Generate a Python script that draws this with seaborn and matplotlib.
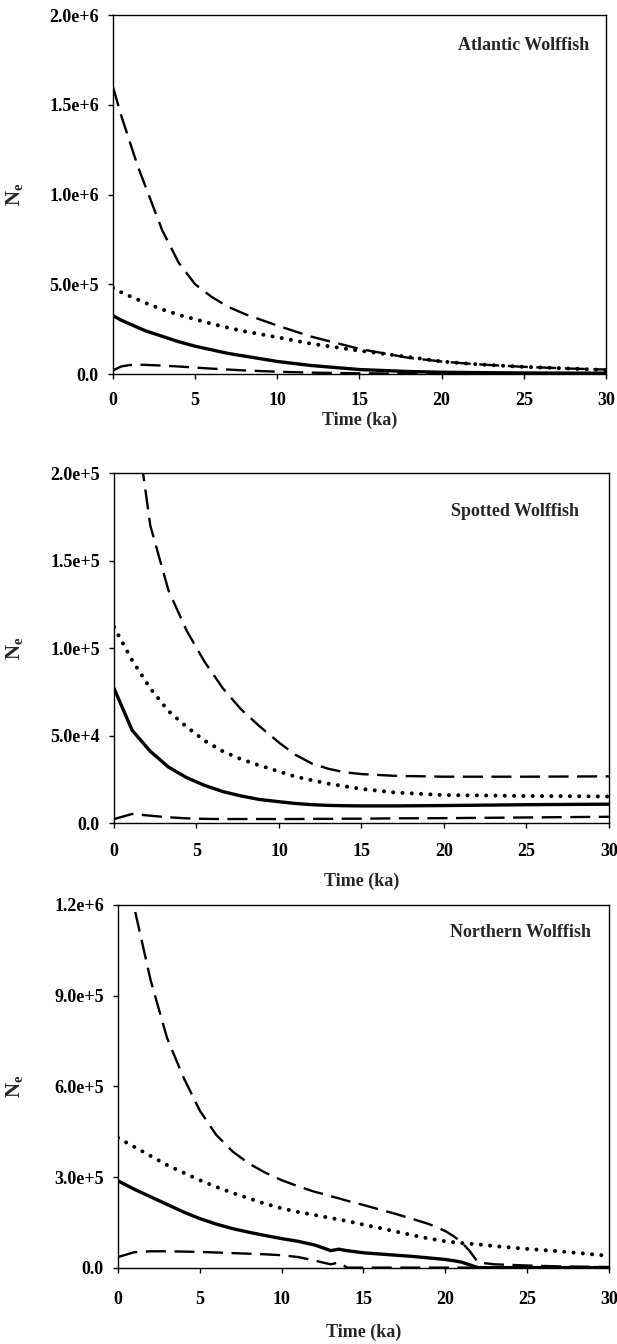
import numpy as np
import pandas as pd
import matplotlib
matplotlib.use("Agg")
import matplotlib.pyplot as plt
import seaborn as sns
from matplotlib.ticker import FuncFormatter

sns.set_style("ticks")
plt.rcParams["font.family"] = ["Liberation Serif", "DejaVu Serif"]
plt.rcParams["font.weight"] = "bold"
plt.rcParams["mathtext.fontset"] = "custom"
plt.rcParams["mathtext.rm"] = "Liberation Serif:bold"
plt.rcParams["mathtext.it"] = "Liberation Serif:bold"
plt.rcParams["mathtext.bf"] = "Liberation Serif:bold"

# --- data ---
# Atlantic wolffish
atl_t = [0, 0.5, 1, 1.5, 2, 3, 4, 5, 6, 7, 8, 10, 12, 15, 18, 20, 22, 25, 28, 30]
atl_hi = [1.60e6, 1.44e6, 1.30e6, 1.16e6, 1.04e6, 0.80e6, 0.62e6, 0.50e6, 0.43e6, 0.375e6,
          0.335e6, 0.27e6, 0.21e6, 0.14e6, 0.09e6, 0.07e6, 0.055e6, 0.04e6, 0.03e6, 0.025e6]
atl_mid = [0.48e6, 0.455e6, 0.435e6, 0.415e6, 0.395e6, 0.36e6, 0.33e6, 0.305e6, 0.28e6, 0.258e6,
           0.238e6, 0.205e6, 0.17e6, 0.13e6, 0.095e6, 0.07e6, 0.055e6, 0.04e6, 0.03e6, 0.022e6]
atl_med = [0.325e6, 0.30e6, 0.28e6, 0.26e6, 0.24e6, 0.21e6, 0.18e6, 0.155e6, 0.135e6, 0.115e6,
           0.10e6, 0.07e6, 0.048e6, 0.025e6, 0.014e6, 0.01e6, 0.008e6, 0.006e6, 0.005e6, 0.005e6]
atl_lo = [0.02e6, 0.042e6, 0.05e6, 0.052e6, 0.051e6, 0.047e6, 0.042e6, 0.036e6, 0.03e6, 0.025e6,
          0.02e6, 0.013e6, 0.008e6, 0.004e6, 0.002e6, 0.001e6, 0.001e6, 0.001e6, 0.001e6, 0.001e6]

# Spotted wolffish
spo_t = [0, 1.1, 2.2, 3.3, 4.4, 5.5, 6.6, 7.7, 8.8, 10, 11, 12, 13, 14, 15, 17, 20, 25, 30]
spo_hi = [3.2e5, 2.45e5, 1.70e5, 1.33e5, 1.10e5, 0.92e5, 0.77e5, 0.65e5, 0.555e5, 0.46e5,
          0.39e5, 0.34e5, 0.31e5, 0.29e5, 0.28e5, 0.27e5, 0.265e5, 0.265e5, 0.267e5]
spo_mid = [1.12e5, 0.93e5, 0.77e5, 0.64e5, 0.55e5, 0.47e5, 0.41e5, 0.365e5, 0.33e5, 0.295e5,
           0.265e5, 0.245e5, 0.225e5, 0.21e5, 0.195e5, 0.175e5, 0.16e5, 0.155e5, 0.152e5]
spo_med = [0.77e5, 0.53e5, 0.41e5, 0.32e5, 0.26e5, 0.215e5, 0.18e5, 0.155e5, 0.135e5, 0.122e5,
           0.112e5, 0.105e5, 0.101e5, 0.099e5, 0.098e5, 0.098e5, 0.10e5, 0.105e5, 0.108e5]
spo_lo = [0.023e5, 0.052e5, 0.042e5, 0.033e5, 0.027e5, 0.024e5, 0.023e5, 0.023e5, 0.023e5, 0.023e5,
          0.023e5, 0.024e5, 0.024e5, 0.025e5, 0.025e5, 0.027e5, 0.028e5, 0.032e5, 0.036e5]

# Northern wolffish
nor_t = [0, 1, 2, 3, 4, 5, 6, 7, 8, 9, 10, 11, 12, 12.5, 13, 13.5, 14, 15, 16, 17, 18, 19,
         20, 20.5, 21, 21.5, 22, 23, 25, 27, 30]
nor_hi = [1.55e6, 1.19e6, 0.95e6, 0.76e6, 0.63e6, 0.52e6, 0.44e6, 0.385e6, 0.345e6, 0.315e6,
          0.29e6, 0.27e6, 0.252e6, 0.245e6, 0.237e6, 0.23e6, 0.222e6, 0.208e6, 0.193e6, 0.178e6,
          0.162e6, 0.145e6, 0.122e6, 0.105e6, 0.085e6, 0.055e6, 0.018e6, 0.012e6, 0.008e6,
          0.005e6, 0.003e6]
nor_mid = [0.43e6, 0.40e6, 0.37e6, 0.34e6, 0.315e6, 0.29e6, 0.268e6, 0.248e6, 0.23e6, 0.212e6,
           0.197e6, 0.185e6, 0.175e6, 0.17e6, 0.165e6, 0.16e6, 0.155e6, 0.143e6, 0.132e6, 0.12e6,
           0.108e6, 0.097e6, 0.088e6, 0.085e6, 0.082e6, 0.08e6, 0.078e6, 0.072e6, 0.063e6,
           0.055e6, 0.04e6]
nor_med = [0.288e6, 0.26e6, 0.235e6, 0.21e6, 0.185e6, 0.163e6, 0.145e6, 0.13e6, 0.118e6, 0.107e6,
           0.097e6, 0.088e6, 0.076e6, 0.067e6, 0.057e6, 0.062e6, 0.057e6, 0.05e6, 0.046e6, 0.042e6,
           0.038e6, 0.033e6, 0.028e6, 0.024e6, 0.019e6, 0.01e6, 0.001e6, 0.001e6, 0.001e6,
           0.001e6, 0.001e6]
nor_lo = [0.036e6, 0.052e6, 0.055e6, 0.055e6, 0.054e6, 0.053e6, 0.051e6, 0.049e6, 0.047e6, 0.045e6,
          0.042e6, 0.036e6, 0.025e6, 0.018e6, 0.012e6, 0.018e6, 0.001e6, 0.001e6, 0.001e6, 0.001e6,
          0.001e6, 0.001e6, 0.001e6, 0.001e6, 0.001e6, 0.001e6, 0.001e6, 0.001e6, 0.001e6,
          0.001e6, 0.001e6]

panels = [
    ("Atlantic Wolffish", atl_t, atl_hi, atl_mid, atl_med, atl_lo, 2.0e6, [0, 5e5, 1e6, 1.5e6, 2e6]),
    ("Spotted Wolffish", spo_t, spo_hi, spo_mid, spo_med, spo_lo, 2.0e5, [0, 5e4, 1e5, 1.5e5, 2e5]),
    ("Northern Wolffish", nor_t, nor_hi, nor_mid, nor_med, nor_lo, 1.2e6, [0, 3e5, 6e5, 9e5, 1.2e6]),
]

# axes boxes in figure fractions, plus label placement per panel
boxes = [
    [0.1831, 0.7217, 0.7990, 0.2671],
    [0.1848, 0.3876, 0.8020, 0.2604],
    [0.1912, 0.0566, 0.7958, 0.2701],
]
xpads = [9, 11, 13]
xlabpads = [2, 9, 11]
ylab_x = [-0.178, -0.18, -0.19]
title_pos = [(0.966, 0.915), (0.94, 0.889), (0.964, 0.923)]


def sci(v, pos):
    if v == 0:
        return "0.0"
    exp = int(np.floor(np.log10(abs(v)) + 1e-9))
    return f"{v / 10 ** exp:.1f}e+{exp}"


long_dash = (0, (8.5, 3.6))
dots = (0, (0.01, 2.3))

fig = plt.figure(figsize=(6.17, 13.44), dpi=100)

for i, (name, t, hi, mid, med, lo, ymax, yt) in enumerate(panels):
    ax = fig.add_axes(boxes[i])
    sns.lineplot(x=t, y=hi, ax=ax, color="black", linewidth=1.7, linestyle=long_dash)
    sns.lineplot(x=t, y=mid, ax=ax, color="black", linewidth=2.9, linestyle=dots,
                 dash_capstyle="round")
    sns.lineplot(x=t, y=med, ax=ax, color="black", linewidth=2.4, linestyle="-")
    sns.lineplot(x=t, y=lo, ax=ax, color="black", linewidth=1.7, linestyle=long_dash)

    ax.set_xlim(0, 30)
    ax.set_ylim(0, ymax)
    ax.set_xticks([0, 5, 10, 15, 20, 25, 30])
    ax.set_yticks(yt)
    ax.yaxis.set_major_formatter(FuncFormatter(sci))
    for s in ax.spines.values():
        s.set_linewidth(1.0)
        s.set_color("black")
    ax.tick_params(axis="both", direction="out", length=3.6, width=1, colors="black",
                   labelsize=13)
    ax.tick_params(axis="x", pad=xpads[i])
    ax.tick_params(axis="y", pad=6.5)
    for lab in ax.get_xticklabels() + ax.get_yticklabels():
        lab.set_fontweight("bold")

    ax.set_xlabel("Time (ka)", fontsize=13, fontweight="bold", labelpad=xlabpads[i])
    ax.set_ylabel(r"N$_{\rm e}$", fontsize=15, fontweight="bold")
    ax.yaxis.set_label_coords(ylab_x[i], 0.5)
    tx, ty = title_pos[i]
    ax.text(tx, ty, name, transform=ax.transAxes, ha="right", va="center",
            fontsize=13, fontweight="bold")

fig.savefig("out.png", dpi=100)
